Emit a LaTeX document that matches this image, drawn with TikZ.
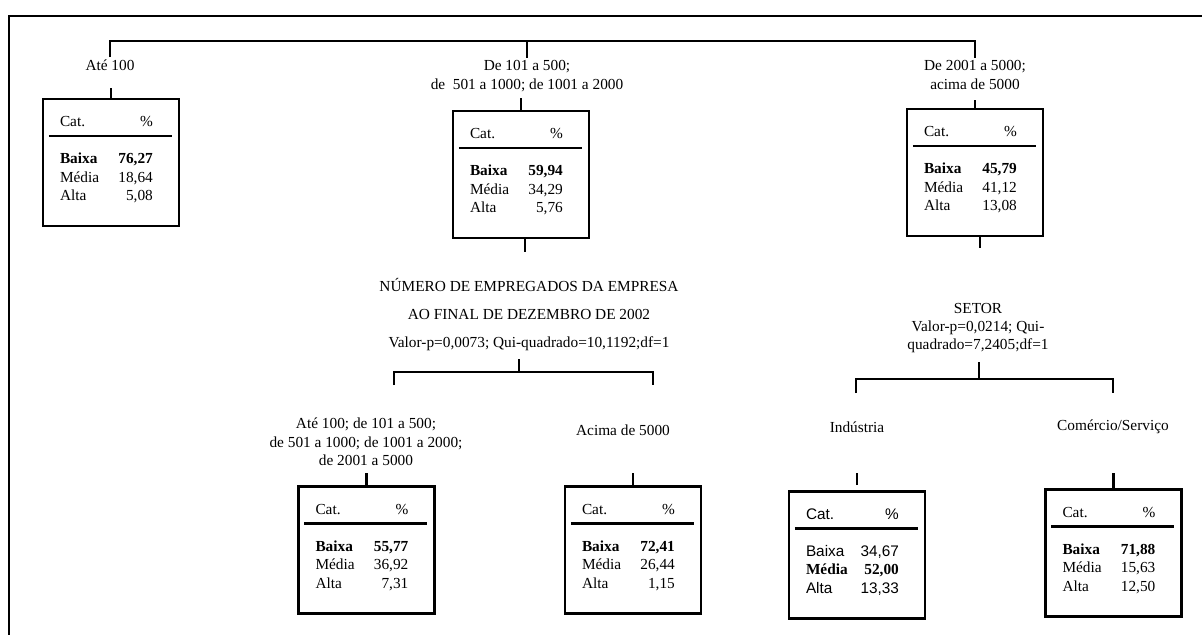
\documentclass[tikz,border=0pt]{standalone}
\usepackage{fontspec}
\setmainfont{Liberation Serif}
\newfontfamily\arial{Liberation Sans}

\tikzset{
  catbox/.style={draw,line width=1.6pt,minimum width=102pt,minimum height=95.25pt,inner sep=0pt},
  lbl/.style={align=center,inner sep=1pt},
  catcell/.style={inner sep=0pt},
  catrule/.style={line width=1.6pt}
}

% conteudo de uma caixa: [fonte do cabecalho]{caixa}{cat1}{val1}{cat2}{val2}{cat3}{val3}
\newcommand{\catrows}[8][]{%
  \path (#2.north west) ++(17,29) node[catcell,anchor=base west] (#2-cat) {#1{}Cat.};
  \path (#2.north west) ++(112,29) node[catcell,anchor=base east] (#2-pct) {#1{}\%};
  \draw[catrule] (#2.north west) ++(7,38) -- ++(123,0);
  \path (#2.north west) ++(17,66) node[catcell,anchor=base west] (#2-r1) {#3};
  \path (#2.north west) ++(112,66) node[catcell,anchor=base east] (#2-v1) {#4};
  \path (#2.north west) ++(17,84.5) node[catcell,anchor=base west] (#2-r2) {#5};
  \path (#2.north west) ++(112,84.5) node[catcell,anchor=base east] (#2-v2) {#6};
  \path (#2.north west) ++(17,103) node[catcell,anchor=base west] (#2-r3) {#7};
  \path (#2.north west) ++(112,103) node[catcell,anchor=base east] (#2-v3) {#8};
}

\begin{document}
\begin{tikzpicture}[x=0.75pt,y=-0.75pt,line width=1.6pt,font=\fontsize{11.5}{13.8}\selectfont]
  \useasboundingbox (0,0) rectangle (1202,635);
  % moldura
  \draw[line width=1.6pt] (1202,16) -- (9,16) -- (9,635);

  % primeiro nivel
  \node[lbl] (l1) at (110,65) {Até 100};
  \node[lbl] (l2) at (527,76) {De 101 a 500;\\de~ 501 a 1000; de 1001 a 2000};
  \node[lbl] (l3) at (975,75) {De 2001 a 5000;\\acima de 5000};
  \coordinate (t0) at (527,41);
  \draw (l1.north) |- (t0) -| (l3.north);
  \draw (t0) -- (l2.north);

  \node[catbox] (b1) at (111,162.5) {};
  \node[catbox] (b2) at (521,174.5) {};
  \node[catbox] (b3) at (975,172.5) {};
  \catrows{b1}{\textbf{Baixa}}{\textbf{76,27}}{Média}{18,64}{Alta}{5,08}
  \catrows{b2}{\textbf{Baixa}}{\textbf{59,94}}{Média}{34,29}{Alta}{5,76}
  \catrows{b3}{\textbf{Baixa}}{\textbf{45,79}}{Média}{41,12}{Alta}{13,08}

  \coordinate (u1) at (111,88);
  \coordinate (u2) at (522,98);
  \coordinate (u3) at (974,100);
  \draw (b1.north) -- (b1.north |- u1);
  \draw (b2.north) -- (b2.north |- u2);
  \draw (b3.north) -- (b3.north |- u3);
  \coordinate (d2) at (525,252);
  \coordinate (d3) at (980,248);
  \draw (d2 |- b2.south) -- (d2);
  \draw (d3 |- b3.south) -- (d3);

  % segundo nivel
  \node[lbl] (n2) at (529,314.5) {NÚMERO DE EMPREGADOS DA EMPRESA\\[7.5pt]AO FINAL DE DEZEMBRO DE 2002\\[7.5pt]Valor-p=0,0073; Qui-quadrado=10,1192;df=1};
  \node[lbl] (n3) at (978,328) {SETOR\\Valor-p=0,0214; Qui-\\quadrado=7,2405;df=1};

  \coordinate (s2) at (519,372);
  \coordinate (e4) at (394,385);
  \coordinate (e5) at (653,385);
  \draw (e4) |- (s2) -| (e5);
  \draw[shorten >=4pt] (s2) -- (s2 |- n2.south);
  \coordinate (s3) at (979,379);
  \coordinate (e6) at (856,393);
  \coordinate (e7) at (1113,393);
  \draw (e6) |- (s3) -| (e7);
  \draw[shorten >=5pt] (s3) -- (s3 |- n3.south);

  % terceiro nivel
  \node[lbl] (l4) at (366,442) {Até 100; de 101 a 500;\\de 501 a 1000; de 1001 a 2000;\\de 2001 a 5000};
  \node[lbl] (l5) at (623,430) {Acima de 5000};
  \node[lbl] (l6) at (857,427) {Indústria};
  \node[lbl] (l7) at (1113,427) {Comércio/Serviço};

  \node[catbox] (b4) at (366.5,550) {};
  \node[catbox] (b5) at (633,550) {};
  \node[catbox] (b6) at (857,555) {};
  \node[catbox] (b7) at (1113.5,553) {};
  \catrows{b4}{\textbf{Baixa}}{\textbf{55,77}}{Média}{36,92}{Alta}{7,31}
  \catrows{b5}{\textbf{Baixa}}{\textbf{72,41}}{Média}{26,44}{Alta}{1,15}
  \catrows[\arial]{b6}{\arial Baixa}{\arial 34,67}{\textbf{Média}}{\textbf{52,00}}{\arial Alta}{\arial 13,33}
  \catrows{b7}{\textbf{Baixa}}{\textbf{71,88}}{Média}{15,63}{Alta}{12,50}

  \coordinate (v4) at (368,473);
  \coordinate (v5) at (633,473);
  \coordinate (v6) at (857,473);
  \coordinate (v7) at (1113,473);
  \draw (b4.north) -- (b4.north |- v4);
  \draw (b5.north) -- (b5.north |- v5);
  \draw[shorten <=4pt] (b6.north) -- (b6.north |- v6);
  \draw (b7.north) -- (b7.north |- v7);
\end{tikzpicture}
\end{document}
